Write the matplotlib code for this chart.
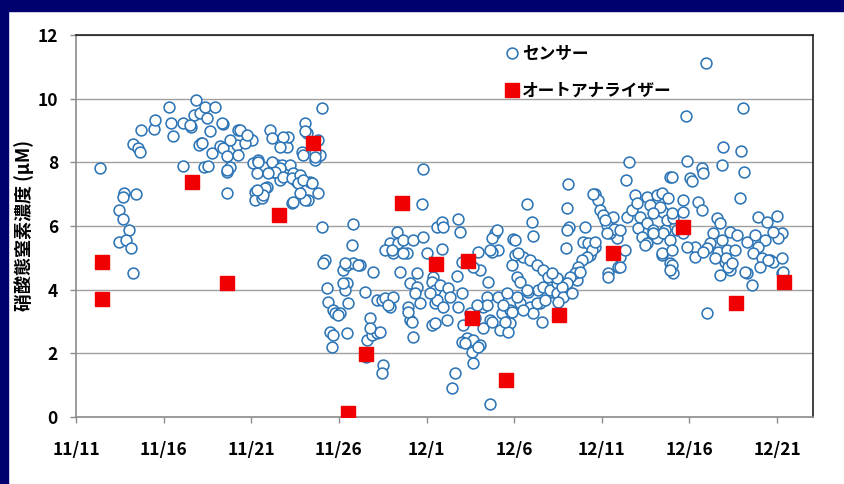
import numpy as np
import matplotlib
matplotlib.use("Agg")
import matplotlib.pyplot as plt
from matplotlib.patches import Rectangle
from matplotlib.lines import Line2D

plt.rcParams['font.family'] = ['Noto Sans CJK JP', 'DejaVu Sans']
plt.rcParams['font.weight'] = 'bold'

start = np.datetime64('2014-11-11T00:00')

# センサー (11/11からの経過日数, 濃度 uM)
sensor_nov = [
    (1.37, 7.83),
    (2.74, 7.04), (3.42, 7.01), (2.68, 6.90), (2.45, 6.50), (2.68, 6.22), (3.03, 5.88),
    (2.45, 5.50), (2.85, 5.57), (3.14, 5.31), (3.25, 4.53),
    (3.25, 8.58), (3.54, 8.46), (3.65, 8.33), (3.71, 9.03), (4.45, 9.06), (4.51, 9.34),
    (5.31, 9.75), (5.54, 8.84), (5.42, 9.25), (6.11, 7.89), (6.11, 9.25), (6.56, 9.12),
    (6.85, 9.97), (6.74, 9.50), (7.13, 8.62), (7.31, 7.86),
    (6.51, 9.18), (7.08, 9.56), (7.02, 8.55), (7.36, 9.75), (7.48, 9.40), (7.65, 8.97),
    (7.53, 7.90), (7.93, 9.75), (8.39, 9.20), (7.76, 8.30), (8.22, 8.50), (8.39, 8.45),
    (8.62, 8.20), (8.79, 7.86), (8.62, 7.70), (8.62, 7.04),
    (9.25, 9.03), (9.19, 8.55), (9.25, 8.24), (9.82, 8.80), (10.05, 8.71), (9.65, 8.62),
    (10.10, 7.99), (10.39, 8.08), (10.67, 7.86), (10.33, 7.67), (10.22, 7.08), (10.22, 6.82),
    (10.62, 6.89), (10.90, 7.23), (10.79, 7.20),
    (11.07, 9.03), (11.19, 8.77), (11.47, 7.92), (11.24, 7.70), (11.64, 7.45), (11.76, 7.92),
    (11.93, 8.62), (12.04, 8.49), (12.10, 8.81), (12.21, 7.92), (12.39, 7.67), (12.33, 6.73),
    (12.39, 6.76), (12.61, 7.39), (12.50, 7.45),
    (13.07, 9.25), (13.18, 8.93), (13.36, 7.39), (13.24, 6.82), (12.90, 8.33), (12.96, 8.24),
    (13.64, 8.08), (13.81, 8.71), (13.93, 8.24), (13.81, 7.04), (14.04, 9.72), (14.04, 5.97),
    (7.19, 8.62), (8.33, 9.25), (9.36, 9.03), (9.76, 8.87), (11.81, 8.81), (11.64, 8.49),
    (10.39, 8.02), (11.19, 8.02), (11.64, 7.83), (11.36, 7.70), (10.96, 7.67), (11.81, 7.55),
    (12.33, 7.52), (12.79, 7.61), (12.67, 7.36), (12.96, 7.45), (10.67, 6.98), (10.33, 7.14),
    (13.07, 6.82), (12.79, 7.04), (13.07, 9.00), (13.64, 8.33), (8.79, 8.70), (8.62, 7.77),
    (13.64, 8.18), (13.47, 7.36),
    (15.81, 6.07), (15.75, 5.41), (14.21, 4.94), (14.10, 4.84), (14.33, 4.06), (14.38, 3.62),
    (14.67, 3.36), (14.78, 3.27), (15.07, 3.27), (14.50, 2.67), (14.67, 2.58), (14.61, 2.20),
    (15.47, 2.64), (15.24, 4.62), (15.47, 4.21), (15.47, 4.78), (15.81, 4.84), (16.21, 4.78),
    (16.95, 4.56), (15.35, 3.99), (15.53, 3.58), (16.50, 3.93), (16.78, 3.11), (16.61, 2.42),
    (16.89, 2.58), (17.18, 2.64), (17.35, 2.67), (16.78, 2.80), (17.52, 1.64), (17.47, 1.38),
    (17.18, 3.68), (17.47, 3.68), (17.64, 3.74), (17.92, 3.46), (18.09, 3.77), (16.55, 1.89),
    (19.81, 7.80), (19.75, 6.70), (18.32, 5.82), (17.92, 5.47), (17.64, 5.25), (18.09, 5.16),
    (18.38, 5.47), (18.66, 5.57), (18.89, 5.16), (18.49, 4.56), (19.24, 5.57), (19.81, 5.66),
    (20.03, 5.16), (19.46, 4.53), (19.06, 4.21), (19.46, 4.09), (19.63, 3.58), (18.95, 3.46),
    (19.06, 3.05), (19.24, 2.52), (20.32, 2.89), (20.49, 3.58), (20.38, 4.40), (20.60, 5.97),
    (15.35, 4.84), (15.24, 4.21), (14.95, 3.21), (16.10, 4.78), (17.81, 3.52), (18.95, 3.30),
    (19.18, 2.99), (19.35, 3.90), (18.66, 5.16), (18.04, 5.25), (20.32, 4.25), (20.49, 3.99),
]

sensor_dec = [
    (25.74, 6.70), (26.03, 6.13), (26.08, 5.69), (20.89, 6.13), (20.95, 5.97), (21.80, 6.23),
    (21.92, 5.82), (20.89, 5.28), (21.75, 4.43), (22.03, 4.87), (22.95, 5.19), (23.06, 4.62),
    (23.52, 4.25), (23.92, 5.79), (23.74, 5.63), (24.09, 5.25), (23.74, 5.19), (24.94, 5.60),
    (25.06, 5.09), (25.51, 5.03), (25.91, 4.94), (26.31, 4.78), (24.89, 4.78), (25.17, 4.40),
    (25.34, 4.25), (26.66, 4.62), (26.94, 4.40), (20.78, 4.15), (20.60, 3.68), (21.23, 4.06),
    (21.35, 3.77), (22.03, 3.90), (20.49, 2.96), (21.18, 3.05), (22.09, 2.89), (22.49, 3.27),
    (22.77, 3.11), (23.23, 3.46), (23.46, 3.77), (23.63, 3.05), (23.23, 2.80), (24.09, 3.77),
    (24.32, 3.27), (24.20, 2.74), (24.77, 3.36), (24.77, 2.96), (24.66, 2.67), (25.34, 3.58),
    (25.91, 3.46), (26.60, 2.99), (26.37, 3.99), (27.17, 3.93), (22.32, 2.48), (22.66, 2.42),
    (23.06, 2.26), (22.60, 2.04), (22.66, 1.70), (21.63, 1.38), (21.46, 0.91), (23.63, 0.41),
    (22.03, 2.36), (24.03, 5.88), (25.06, 5.57), (26.08, 3.27), (25.51, 3.36), (24.89, 3.30),
    (24.49, 2.99), (22.95, 2.20), (22.20, 2.33), (23.74, 2.99), (23.46, 3.52), (24.37, 3.52),
    (25.17, 3.77), (25.80, 3.93), (26.48, 3.58), (26.66, 4.09), (27.51, 4.31), (27.91, 3.87),
    (28.60, 4.31), (29.34, 5.09), (29.62, 5.35), (20.95, 3.46), (21.80, 3.46), (20.20, 3.90),
    (22.66, 4.72), (22.89, 3.52), (24.60, 3.90), (25.74, 3.99), (26.31, 3.58), (26.77, 3.68),
    (27.05, 3.99), (27.45, 4.21), (27.45, 3.90), (23.63, 5.25), (25.20, 5.16),
    (31.56, 8.02), (31.39, 7.45), (28.08, 7.33), (28.02, 6.57), (28.14, 5.97), (27.97, 5.31),
    (29.62, 7.01), (29.79, 6.82), (29.91, 6.51), (30.08, 6.35), (30.65, 6.29), (29.05, 5.97),
    (30.31, 6.04), (28.94, 5.50), (29.22, 5.47), (29.45, 5.25), (29.17, 5.03), (28.88, 4.94),
    (28.65, 4.72), (28.48, 4.53), (28.20, 4.40), (28.77, 4.56), (28.02, 4.21), (27.74, 4.09),
    (27.45, 4.37), (27.17, 4.53), (27.80, 3.77), (28.31, 3.90), (27.51, 3.62), (30.37, 4.53),
    (30.94, 4.72), (31.05, 5.03), (31.34, 5.25), (30.88, 5.63), (30.48, 5.79), (30.70, 5.90),
    (31.45, 6.29), (31.74, 6.51), (31.91, 6.98), (32.02, 6.73), (32.59, 6.92), (32.76, 6.67),
    (33.16, 6.98), (33.45, 7.04), (33.79, 6.89), (33.90, 7.55), (33.50, 6.45), (32.19, 6.29),
    (32.08, 5.94), (32.59, 6.10), (32.31, 5.66), (32.59, 5.47), (32.93, 5.88), (33.16, 5.63),
    (33.62, 5.88), (33.45, 5.09), (33.90, 4.84), (34.08, 4.53), (29.62, 5.50), (30.37, 4.40),
    (31.05, 4.72), (32.48, 5.41), (33.45, 5.16), (34.02, 4.78), (33.33, 6.60), (32.93, 6.42),
    (33.73, 6.19), (34.08, 6.26), (34.30, 5.88), (34.65, 5.79), (33.50, 5.79), (32.93, 5.79),
    (29.51, 7.01), (30.19, 6.19), (30.31, 5.79), (31.05, 5.88), (28.02, 5.88),
    (35.96, 11.13), (38.07, 9.72), (34.82, 9.47), (36.93, 8.49), (37.96, 8.36), (36.87, 7.92),
    (38.13, 7.70), (34.87, 8.05), (35.73, 7.83), (35.79, 7.67), (35.05, 7.52), (35.16, 7.40),
    (34.02, 7.55), (37.90, 6.89), (34.65, 6.82), (35.50, 6.76), (35.73, 6.51), (34.65, 6.45),
    (34.02, 6.42), (36.59, 6.26), (36.76, 6.10), (36.36, 5.79), (37.33, 5.82), (37.73, 5.72),
    (36.87, 5.57), (36.19, 5.47), (36.02, 5.31), (35.33, 5.35), (36.64, 5.19), (37.16, 5.25),
    (37.61, 5.25), (37.04, 4.87), (37.33, 4.62), (37.10, 5.00), (38.30, 5.50), (38.76, 5.72),
    (38.93, 6.29), (39.44, 6.13), (40.01, 6.32), (40.30, 5.79), (40.07, 5.63), (39.78, 5.82),
    (39.33, 5.57), (38.93, 5.35), (38.64, 5.16), (39.16, 5.00), (39.61, 4.94), (39.78, 4.87),
    (39.04, 4.72), (38.30, 4.53), (38.58, 4.15), (40.30, 4.53), (36.02, 3.27), (33.90, 5.57),
    (34.00, 5.25), (33.90, 4.62), (34.87, 5.35), (35.33, 5.03), (35.79, 5.19), (36.47, 5.00),
    (36.76, 4.47), (37.21, 4.72), (37.44, 4.84), (38.18, 4.56), (39.50, 4.94), (40.35, 4.56),
    (40.30, 5.00),
]

# オートアナライザー
analyzer_days = [1.50, 1.48, 6.62, 8.62, 11.59, 13.53, 15.53, 16.55, 18.60, 20.55,
                 22.37, 22.60, 24.54, 27.57, 30.65, 34.65, 37.67, 40.41]
analyzer_vals = [4.87, 3.71, 7.39, 4.21, 6.35, 8.62, 0.13, 1.98, 6.73, 4.81,
                 4.90, 3.11, 1.16, 3.21, 5.16, 5.97, 3.58, 4.25]

tick_days = [0, 5, 10, 15, 20, 25, 30, 35, 40]
tick_labels = ['11/11', '11/16', '11/21', '11/26', '12/1', '12/6', '12/11', '12/16', '12/21']
x_end_day = 42.05

blue = '#2E75B6'
red = '#F00000'
navy = '#00006E'


def to_dates(days):
    mins = np.round(np.asarray(days, dtype=float) * 1440).astype('timedelta64[m]')
    return start + mins


sensor = np.array(sensor_nov + sensor_dec)

fig = plt.figure(figsize=(8.44, 4.84), dpi=100)
fig.patch.set_facecolor('white')
fig.patches.append(Rectangle((0, 1 - 11 / 484), 1, 11 / 484, transform=fig.transFigure,
                             color=navy, zorder=0))
fig.patches.append(Rectangle((0, 0), 8 / 844, 1, transform=fig.transFigure,
                             color=navy, zorder=0))

ax = fig.add_axes([76 / 844, 1 - 417 / 484, 737 / 844, 382 / 484])

ax.plot(to_dates(sensor[:, 0]), sensor[:, 1], 'o', ms=7.8, mfc='white', mec=blue,
        mew=1.15, ls='none', zorder=3)
ax.plot(to_dates(analyzer_days), analyzer_vals, 's', ms=10, color=red, ls='none', zorder=4)

ax.set_ylim(0, 12)
ax.set_yticks(np.arange(0, 13, 2))
ax.set_xlim(to_dates([0])[0], to_dates([x_end_day])[0])
ax.set_xticks(to_dates(tick_days))
ax.set_xticklabels(tick_labels)

ax.grid(True, axis='y', color='#A0A0A0', lw=1.0)
ax.set_axisbelow(True)
ax.tick_params(axis='both', direction='out', length=4, width=1, color='#8C8C8C',
               labelsize=12.5)
ax.tick_params(axis='x', pad=13)
ax.tick_params(axis='y', pad=9)
for lab in ax.get_xticklabels() + ax.get_yticklabels():
    lab.set_fontweight('bold')

for side in ['left', 'bottom']:
    ax.spines[side].set_color('#8C8C8C')
    ax.spines[side].set_linewidth(1.2)
for side in ['top', 'right']:
    ax.spines[side].set_color('#202020')
    ax.spines[side].set_linewidth(1.2)

ax.set_ylabel('硝酸態窒素濃度 (μM)', fontsize=13, fontweight='bold')
ax.yaxis.set_label_coords(-0.057, 0.5)

handles = [
    Line2D([], [], marker='o', ls='none', ms=7.8, mfc='white', mec=blue, mew=1.15),
    Line2D([], [], marker='s', ls='none', ms=10, color=red),
]
ax.legend(handles, ['センサー', 'オートアナライザー'], loc='upper left',
          bbox_to_anchor=(506 / 844, 1 - 45 / 484), bbox_transform=fig.transFigure,
          frameon=False, handlelength=0.7, handletextpad=0.25,
          labelspacing=1.15, borderaxespad=0, borderpad=0,
          prop={'weight': 'bold', 'size': 12})

fig.savefig('out.png', dpi=100)
